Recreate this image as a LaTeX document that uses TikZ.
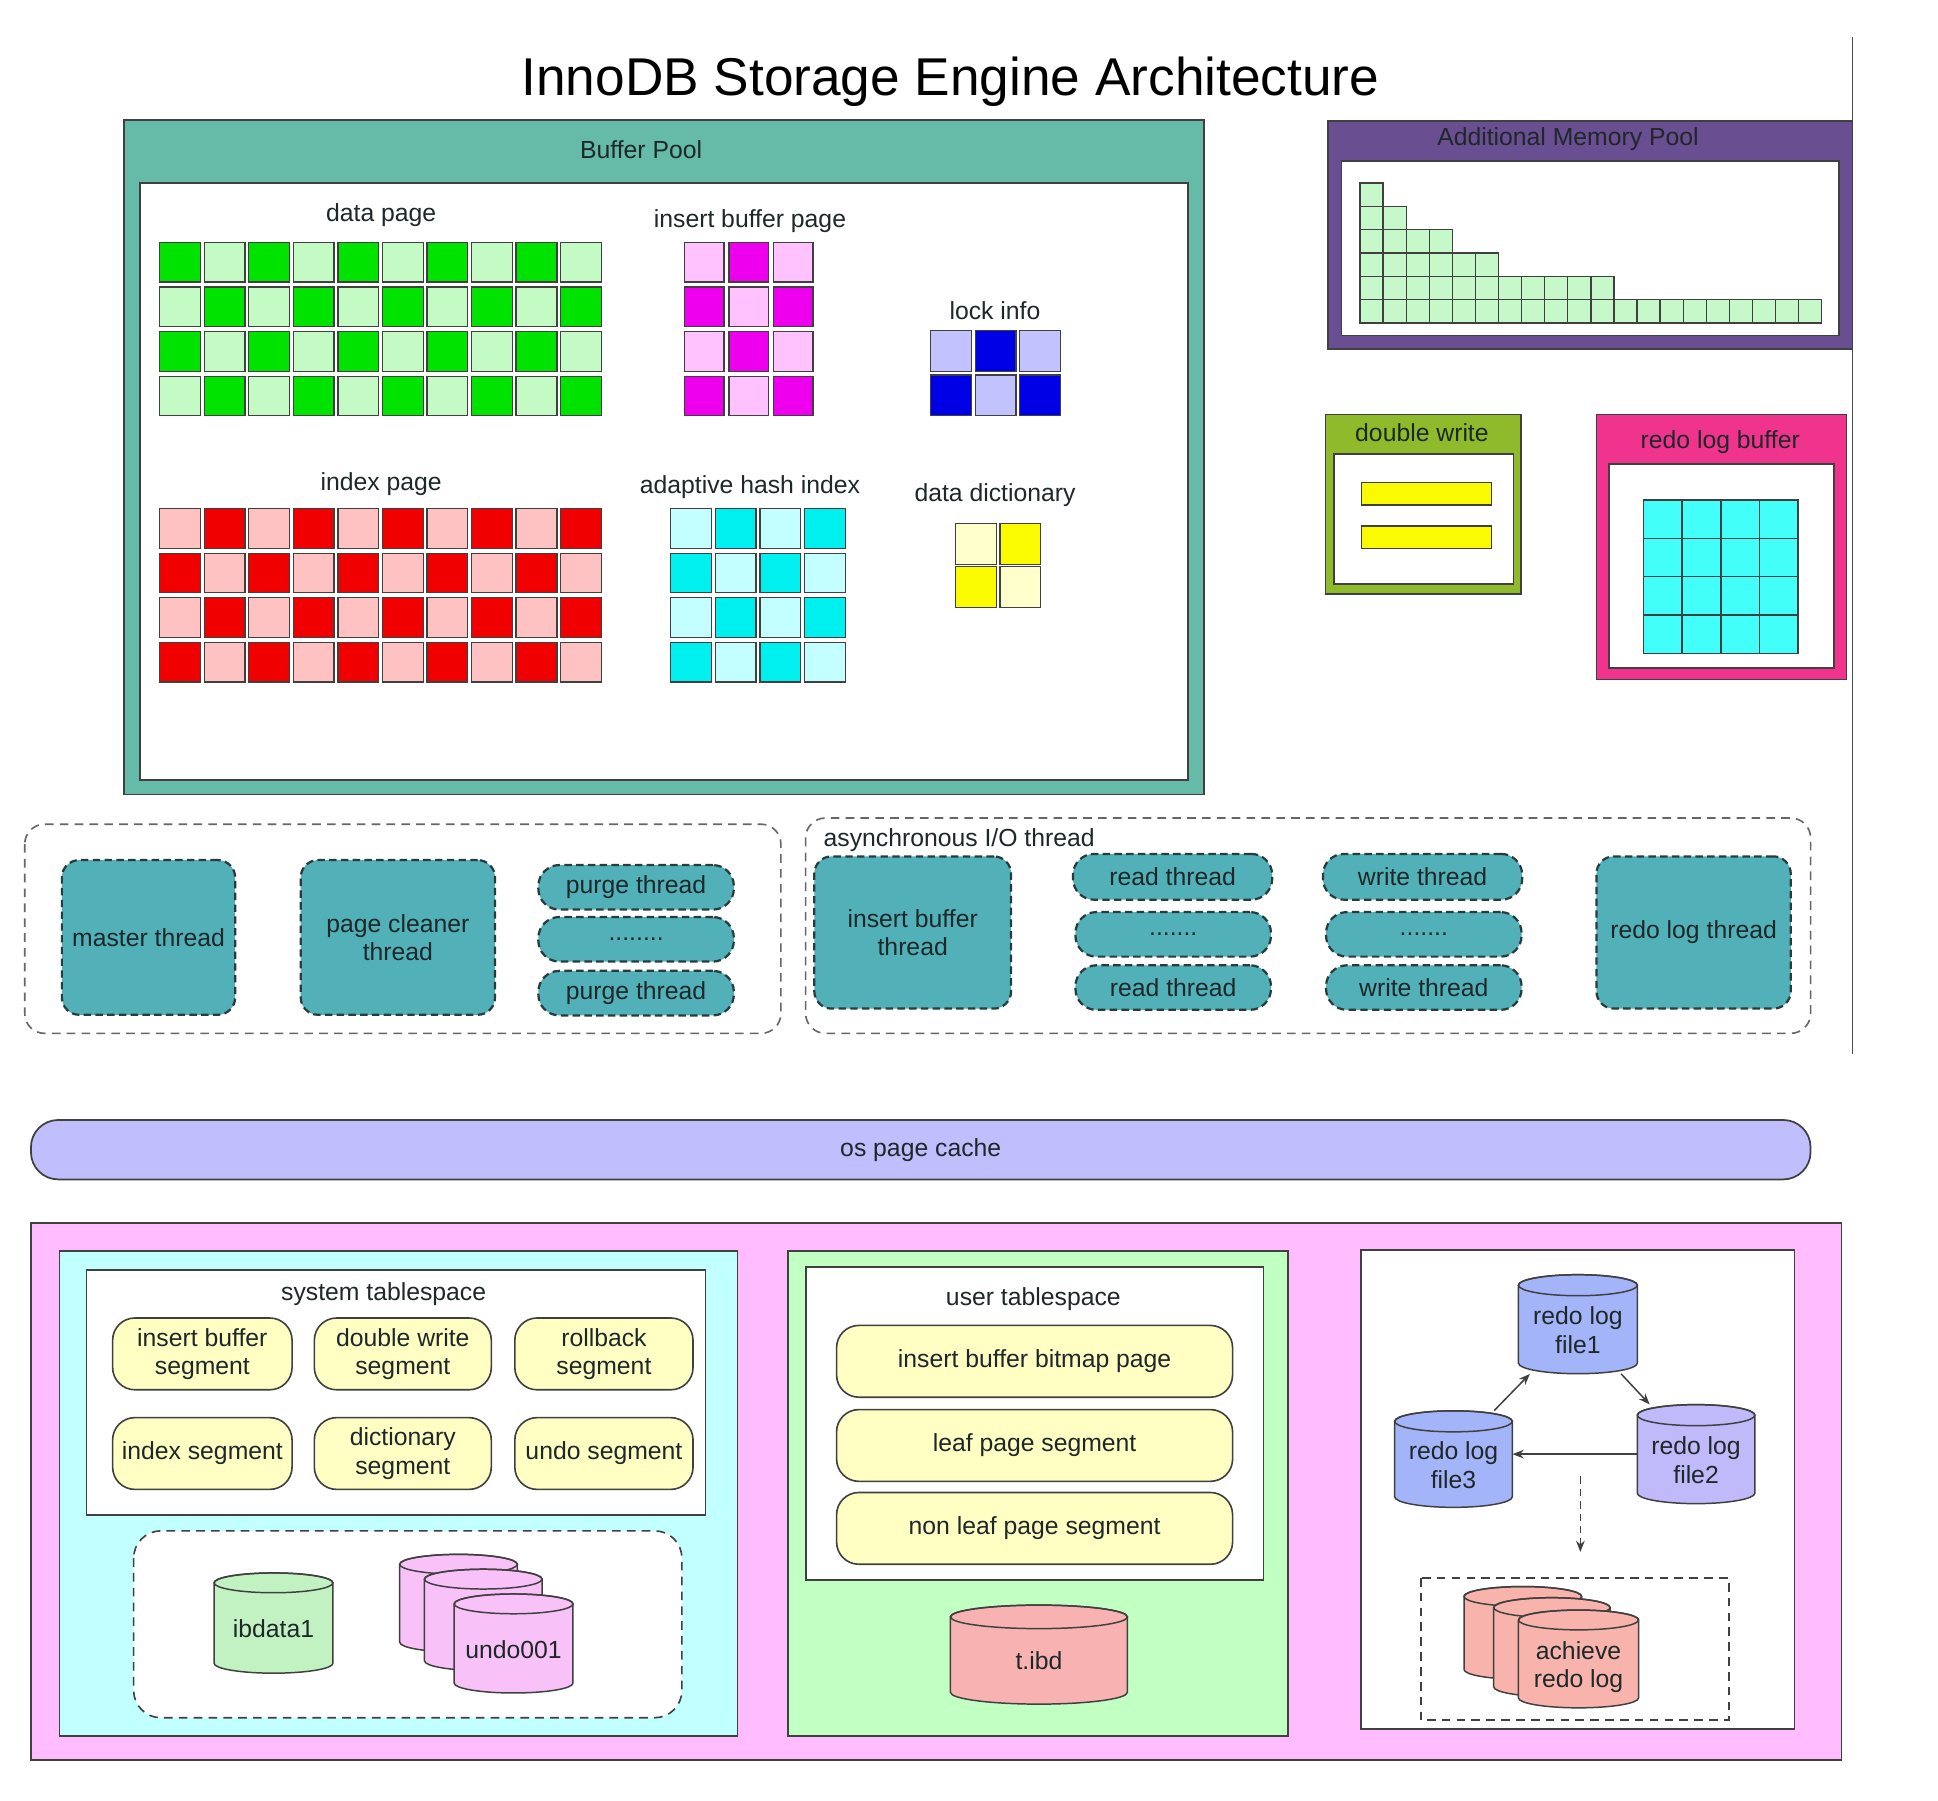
\documentclass[tikz,border=0pt]{standalone}
\usepackage{fontspec}
\setmainfont{Liberation Sans}
\usetikzlibrary{arrows.meta}
\definecolor{bpTeal}{RGB}{102,186,168}
\definecolor{greenD}{RGB}{0,226,0}
\definecolor{greenL}{RGB}{196,250,196}
\definecolor{magD}{RGB}{238,0,238}
\definecolor{magL}{RGB}{255,194,255}
\definecolor{blueD}{RGB}{0,0,230}
\definecolor{blueL}{RGB}{194,194,255}
\definecolor{redD}{RGB}{240,0,0}
\definecolor{redL}{RGB}{255,194,194}
\definecolor{cyanD}{RGB}{0,240,240}
\definecolor{cyanL}{RGB}{196,255,255}
\definecolor{yelD}{RGB}{250,250,0}
\definecolor{yelL}{RGB}{255,255,204}
\definecolor{histG}{RGB}{198,248,202}
\definecolor{amPurple}{RGB}{106,78,146}
\definecolor{dwOlive}{RGB}{142,186,44}
\definecolor{rlPink}{RGB}{240,52,142}
\definecolor{rlCyan}{RGB}{66,255,250}
\definecolor{thrfill}{RGB}{82,176,184}
\definecolor{thrline}{RGB}{40,60,62}
\definecolor{osLav}{RGB}{192,190,252}
\definecolor{pinkBG}{RGB}{255,188,255}
\definecolor{cyanBG}{RGB}{194,255,255}
\definecolor{greenBG}{RGB}{194,255,194}
\definecolor{segY}{RGB}{255,255,196}
\definecolor{ibGreen}{RGB}{194,242,194}
\definecolor{undoPink}{RGB}{248,194,248}
\definecolor{tibdRed}{RGB}{248,178,178}
\definecolor{redoBlue}{RGB}{164,180,248}
\definecolor{redoLav}{RGB}{192,186,250}
\definecolor{achRed}{RGB}{248,180,172}
\definecolor{txt}{RGB}{30,40,40}
\newcommand\checkgrid[9]{%
  \foreach \i in {0,...,#3}{\foreach \j in {0,...,#4}{%
    \pgfmathtruncatemacro\myp{mod(\i+\j+#9,2)}%
    \ifnum\myp=0 \def\mycellcol{\darkc}\else\def\mycellcol{\lightc}\fi
    \draw[cellst, fill=\mycellcol] ({#1+#5*\i},{#2+#6*\j}) rectangle ++(#7,#8);
  }}}
\def\cylry{8}
\newcommand\mycyl[7]{%
  \pgfmathsetmacro\cxl{#2-#4/2}\pgfmathsetmacro\cxr{#2+#4/2}%
  \pgfmathsetmacro\ctop{#3-#5/2+\cylry}\pgfmathsetmacro\cbot{#3+#5/2-\cylry}%
  \pgfmathsetmacro\crx{#4/2}%
  \filldraw[cylst, fill=#6] (\cxl,\ctop) -- (\cxl,\cbot)
     arc[start angle=180, end angle=0, x radius=\crx, y radius=\cylry]
     -- (\cxr,\ctop)
     arc[start angle=0, end angle=-180, x radius=\crx, y radius=\cylry] -- cycle;
  \draw[cylst] (#2,\ctop) ellipse[x radius=\crx, y radius=\cylry];
  \node[minimum width=#4pt, minimum height=#5pt, inner sep=0pt] (#1) at (#2,#3)
     {\raisebox{-12.5pt}[0pt][0pt]{\begin{tabular}{@{}c@{}}#7\end{tabular}}};
}
\begin{document}
\begin{tikzpicture}[x=1pt,y=-1pt,
  font=\fontsize{20}{23}\selectfont, text=txt,
  cellst/.style={draw=black!75, line width=1.1pt},
  boxst/.style={draw=black!75, line width=1.4pt},
  cylst/.style={draw=black!75, line width=1.2pt},
  thr/.style={draw=thrline, fill=thrfill, dash pattern=on 6pt off 3.5pt, line width=1.8pt, rounded corners=14pt, align=center, inner sep=2pt},
  pill/.style={thr, rounded corners=17pt},
  cont/.style={draw=black!60, dash pattern=on 7pt off 5pt, line width=1.3pt, rounded corners=16pt},
  seg/.style={draw=black!75, fill=segY, line width=1.3pt, rounded corners=18pt, align=center, minimum height=58pt, inner sep=1pt},
  arr/.style={-{Stealth[length=9pt,width=7pt]}, line width=1.2pt, draw=black!75}
]
\useasboundingbox (0,0) rectangle (1566,1455);
\fill[white] (0,0) rectangle (1566,1455);

% title
\node[font=\fontsize{43}{48}\selectfont, text=black] (title) at (768,66) {InnoDB Storage Engine Architecture};
\draw[black!70, line width=1pt] (1497,30) -- (1497,852);

% Buffer pool
\draw[boxst, fill=bpTeal] (100,97) rectangle (973,642);
\draw[boxst, fill=white] (113,148) rectangle (960,630);
\node (bp) at (518,121) {Buffer Pool};
\node (dp) at (308,174) {data page};
\node (ibp) at (606,179) {insert buffer page};
\node (li) at (804,251) {lock info};
\node (ip) at (308,391) {index page};
\node (ahi) at (606,394) {adaptive hash index};
\node (dd) at (804,400) {data dictionary};
\def\darkc{greenD}\def\lightc{greenL}
\checkgrid{129}{196}{9}{3}{36}{36}{33}{32}{0}
\def\darkc{magD}\def\lightc{magL}
\checkgrid{553}{196}{2}{3}{36}{36}{32}{32}{1}
\def\darkc{blueD}\def\lightc{blueL}
\checkgrid{752}{267}{2}{1}{36}{36}{33}{33}{1}
\def\darkc{redD}\def\lightc{redL}
\checkgrid{129}{411}{9}{3}{36}{36}{33}{32}{1}
\def\darkc{cyanD}\def\lightc{cyanL}
\checkgrid{542}{411}{3}{3}{36}{36}{33}{32}{1}
\def\darkc{yelD}\def\lightc{yelL}
\checkgrid{772}{423}{1}{1}{36}{35}{33}{33}{1}

% Additional memory pool
\draw[boxst, fill=amPurple] (1073,98) rectangle (1497,282);
\draw[boxst, fill=white] (1084,130) rectangle (1486,271);
\node (amp) at (1267,112) {Additional Memory Pool};
\foreach \n [count=\k from 0] in {6,5,4,4,3,3,2,2,2,2,2,1,1,1,1,1,1,1,1,1}{
  \foreach \r in {1,...,\n}{
    \draw[cellst, fill=histG] ({1099+18.65*\k},{261-18.83*\r}) rectangle ++(18.65,18.83);
  }}

% double write
\draw[boxst, fill=dwOlive] (1071,335) rectangle (1229,480);
\draw[boxst, fill=white] (1078,367) rectangle (1223,472);
\node (dw) at (1149,350) {double write};
\draw[cellst, fill=yelD] (1100,390) rectangle (1205,408);
\draw[cellst, fill=yelD] (1100,425) rectangle (1205,443);

% redo log buffer
\draw[boxst, fill=rlPink] (1290,335) rectangle (1492,549);
\draw[boxst, fill=white] (1300,375) rectangle (1482,540);
\node (rlb) at (1390,357) {redo log buffer};
\foreach \i in {0,...,3}{\foreach \j in {0,...,3}{
  \draw[cellst, fill=rlCyan] ({1328+31.25*\i},{404+31*\j}) rectangle ++(31.25,31);
}}

% threads
\draw[cont] (20,666) rectangle (631,835);
\node[thr, minimum width=140pt, minimum height=125pt] (mt) at (120,757.5) {master thread};
\node[thr, minimum width=157pt, minimum height=125pt] (pct) at (321.5,757.5) {page cleaner\\thread};
\node[pill, minimum width=158pt, minimum height=36pt] (pt1) at (514,717) {purge thread};
\node[pill, minimum width=158pt, minimum height=36pt] (ptd) at (514,759) {........};
\node[pill, minimum width=158pt, minimum height=36pt] (pt2) at (514,802.5) {purge thread};

\draw[cont] (651,661) rectangle (1463,835);
\node[anchor=west] (aio) at (662,679) {asynchronous I/O thread};
\node[thr, minimum width=159pt, minimum height=123pt] (ibt) at (737.5,753.5) {insert buffer\\thread};
\node[pill, minimum width=161pt, minimum height=37pt] (rt1) at (947.5,708.5) {read thread};
\node[pill, minimum width=158pt, minimum height=36pt] (rtd) at (948,755) {.......};
\node[pill, minimum width=158pt, minimum height=36pt] (rt2) at (948,798) {read thread};
\node[pill, minimum width=161pt, minimum height=37pt] (wt1) at (1149.5,708.5) {write thread};
\node[pill, minimum width=158pt, minimum height=36pt] (wtd) at (1150.5,755) {.......};
\node[pill, minimum width=158pt, minimum height=36pt] (wt2) at (1150.5,798) {write thread};
\node[thr, minimum width=157pt, minimum height=123pt] (rlt) at (1368.5,753.5) {redo log thread};

% os page cache
\node[draw=black!75, line width=1.4pt, fill=osLav, rounded corners=22pt, minimum width=1438pt, minimum height=48pt] (os) at (744,929) {os page cache};

% bottom
\draw[boxst, fill=pinkBG] (25,988) rectangle (1488,1422);
\draw[boxst, fill=cyanBG] (48,1011) rectangle (596,1403);
\draw[boxst, fill=white] (70,1026) rectangle (570,1224);
\node (st) at (310,1046) {system tablespace};
\node[seg, minimum width=145pt] (s1) at (163.5,1094) {insert buffer\\segment};
\node[seg, minimum width=143pt] (s2) at (325.5,1094) {double write\\segment};
\node[seg, minimum width=144pt] (s3) at (488,1094) {rollback\\segment};
\node[seg, minimum width=145pt] (s4) at (163.5,1174.5) {index segment};
\node[seg, minimum width=143pt] (s5) at (325.5,1174.5) {dictionary\\segment};
\node[seg, minimum width=144pt] (s6) at (488,1174.5) {undo segment};
\draw[cont, draw=black!75, fill=white, rounded corners=22pt] (108,1237) rectangle (551,1388);
\mycyl{ib}{221}{1311.5}{96}{81}{ibGreen}{ibdata1}
\mycyl{u1}{370.5}{1295.5}{95}{79}{undoPink}{}
\mycyl{u2}{390.5}{1309}{95}{82}{undoPink}{}
\mycyl{u3}{415}{1328}{96}{80}{undoPink}{undo001}

\draw[boxst, fill=greenBG] (637,1011) rectangle (1041,1403);
\draw[boxst, fill=white] (651,1024) rectangle (1021,1277);
\node (ut) at (835,1050) {user tablespace};
\node[seg, minimum width=320pt] (p1) at (836,1100) {insert buffer bitmap page};
\node[seg, minimum width=320pt] (p2) at (836,1168) {leaf page segment};
\node[seg, minimum width=320pt] (p3) at (836,1235) {non leaf page segment};
\def\cylry{9.5}
\mycyl{tibd}{839.5}{1337}{143}{80}{tibdRed}{t.ibd}
\def\cylry{8.5}

\draw[boxst, fill=white] (1100,1010) rectangle (1450,1397);
\mycyl{f1}{1275}{1070}{96}{80}{redoBlue}{redo log\\file1}
\mycyl{f3}{1174.5}{1179}{95}{78}{redoBlue}{redo log\\file3}
\mycyl{f2}{1370.5}{1175}{95}{80}{redoLav}{redo log\\file2}
\draw[arr] (f3.50) -- (f1.226);
\draw[arr] (f1.311) -- (f2.133);
\draw[arr] (f2.west) -- (f2.west -| f3.east);
\coordinate (dA) at (1277,1193);
\coordinate (dB) at (1277,1254);
\draw[arr, dash pattern=on 6pt off 4pt] (dA) -- (dB);
\draw[draw=black!75, line width=1.3pt, dash pattern=on 7pt off 5pt] (1148,1275) rectangle (1397,1390);
\def\cylry{8}
\mycyl{a1}{1230.5}{1319.5}{95}{75}{achRed}{}
\mycyl{a2}{1254}{1331}{94}{80}{achRed}{}
\mycyl{a3}{1275.5}{1340.5}{97}{79}{achRed}{achieve\\redo log}
\end{tikzpicture}
\end{document}
